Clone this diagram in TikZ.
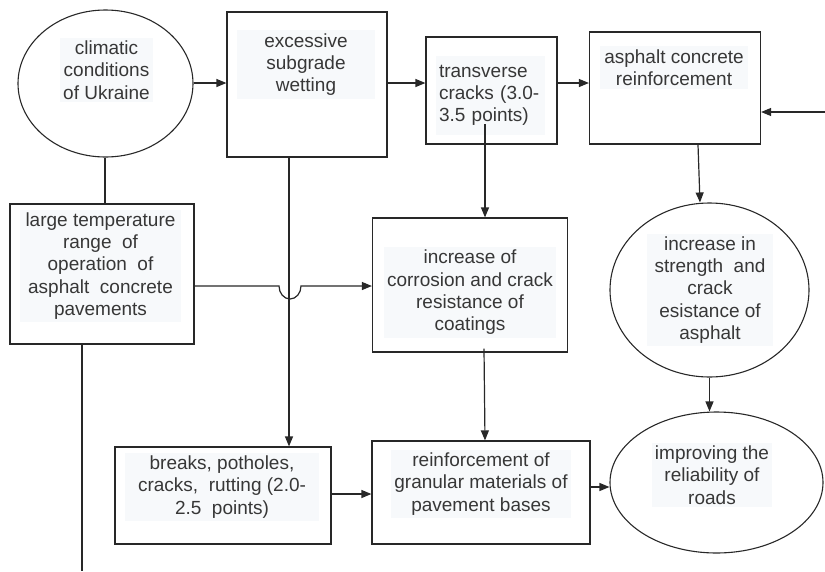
\documentclass[tikz,border=0pt]{standalone}
\usepackage{fontspec}
\setmainfont{Liberation Sans}
\usetikzlibrary{arrows.meta,shapes.geometric,calc}
\definecolor{bgc}{RGB}{247,249,251}
\definecolor{ln}{RGB}{40,40,40}
\definecolor{tx}{RGB}{55,55,55}
\tikzset{
  box/.style={draw=ln,line width=1.2pt,rectangle,inner sep=0pt},
  oval/.style={draw=ln,line width=1.1pt,ellipse,inner sep=0pt},
  lbl/.style={fill=bgc,text=tx,align=center,inner sep=3pt,font=\fontsize{19}{22.3}\selectfont},
  con/.style={draw=ln,line width=1.2pt},
  arr/.style={con,-{Triangle[length=10pt,width=8pt]}}
}
\begin{document}
\begin{tikzpicture}[x=1pt,y=-1pt]
\useasboundingbox (0,0) rectangle (825,571);
% shapes
\node[oval,minimum width=175pt,minimum height=147pt] (clim) at (105.5,83.5) {};
\node[lbl] (climt) at (106.5,70) {climatic\\conditions\\of Ukraine};
\node[box,minimum width=160pt,minimum height=145pt] (exc) at (307,84.5) {};
\node[lbl,minimum width=138pt] (exct) at (306,64.5) {excessive\\subgrade\\wetting};
\node[box,minimum width=131pt,minimum height=107pt] (tr) at (491.5,90.5) {};
\node[lbl,align=left,minimum width=109pt,minimum height=79pt,text width=103pt] (trt) at (490.5,95.5) {transverse\\cracks (3.0-\\3.5 points)};
\node[box,minimum width=171pt,minimum height=112pt] (ar) at (675,88) {};
\node[lbl,minimum width=148pt] (art) at (674,67.5) {asphalt concrete\\reinforcement};
\node[oval,minimum width=199pt,minimum height=174pt] (inc) at (709.5,290) {};
\node[lbl,minimum width=126pt] (inct) at (710,290) {increase in\\strength~ and\\crack\\esistance of\\asphalt};
\node[box,minimum width=195pt,minimum height=134pt] (corr) at (470,285) {};
\node[lbl] (corrt) at (470,292.5) {increase of\\corrosion and crack\\resistance of\\coatings};
\node[box,minimum width=184pt,minimum height=140pt] (lt) at (102,274) {};
\node[lbl,minimum width=161pt] (ltt) at (100.5,266) {large temperature\\range~ of\\operation~ of\\asphalt~ concrete\\pavements};
\node[box,minimum width=216pt,minimum height=97pt] (br) at (223,495.5) {};
\node[lbl,minimum width=194pt] (brt) at (222,487) {breaks, potholes,\\cracks,~ rutting (2.0-\\2.5~ points)};
\node[box,minimum width=218pt,minimum height=103pt] (gr) at (481,492.5) {};
\node[lbl] (grt) at (481,484) {reinforcement of\\granular materials of\\pavement bases};
\node[oval,minimum width=213pt,minimum height=141pt] (imp) at (716.5,482.5) {};
\node[lbl] (impt) at (712,475) {improving the\\reliability of\\roads};
% free ends
\coordinate (rin) at (825,112);
\coordinate (lbot) at (82,571);
% connectors
\draw[arr] (clim.east |- 0,83) -- (exc.west |- 0,83);
\draw[arr] (exc.east |- 0,83) -- (tr.west |- 0,83);
\draw[arr] (tr.east |- 0,83) -- (ar.west |- 0,83);
\draw[arr] (rin) -- (ar.east |- rin);
\draw[arr] ($(ar.south)+(23,0)$) -- ($(inc.north)+(-9.5,0)$);
\draw[arr] (485,124) -- (corr.north -| 485,0);
\draw[arr] (exc.south -| 289,0) -- (br.north -| 289,0);
\draw[con] (clim.south -| 105,0) -- (lt.north -| 105,0);
\draw[arr] (lt.east |- 0,286) -- (279,286) arc[start angle=180,end angle=360,x radius=11pt,y radius=13pt] -- (corr.west |- 0,286);
\draw[con] (lt.south -| lbot) -- (lbot);
\draw[arr] ($(corr.south)+(14,-4)$) -- ($(gr.north)+(4,0)$);
\draw[arr] (br.east |- 0,494) -- (gr.west |- 0,494);
\draw[arr] (gr.east |- 0,487) -- (imp.west |- 0,487);
\draw[arr] (inc.south) -- (imp.north -| inc.south);
\end{tikzpicture}
\end{document}
